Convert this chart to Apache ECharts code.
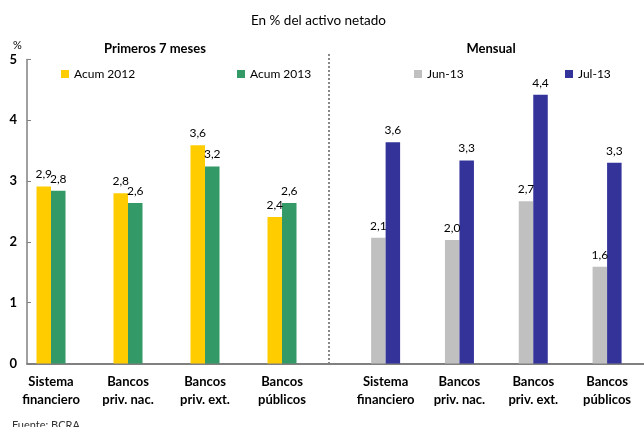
<!DOCTYPE html>
<html>
<head>
<meta charset="utf-8">
<script src="https://cdn.jsdelivr.net/npm/echarts@6/dist/echarts.min.js"></script>
<style>html,body{margin:0;padding:0;background:#fff}#c{width:644px;height:427px}</style>
</head>
<body>
<div id="c"></div>
<script>
const categories = ['Sistema\nfinanciero', 'Bancos\npriv. nac.', 'Bancos\npriv. ext.', 'Bancos\npúblicos'];
const acum2012 = [2.91, 2.80, 3.59, 2.41];
const acum2013 = [2.84, 2.64, 3.24, 2.64];
const jun13 = [2.07, 2.03, 2.67, 1.59];
const jul13 = [3.64, 3.34, 4.42, 3.30];
const yTicks = [0, 1, 2, 3, 4, 5];

const FONT = 'Lato';
const chart = echarts.init(document.getElementById('c'));
const TOP = 59.5, BOTTOM = 427 - 363.5;

const lbl = {
  show: true, position: 'top', distance: 6, color: '#000', fontFamily: FONT, fontSize: 12,
  formatter: p => p.value.toFixed(1).replace('.', ',')
};
const xLab = { color: '#000', fontFamily: FONT, fontSize: 13, fontWeight: 'bold', lineHeight: 18, margin: 9, interval: 0 };
const hiddenY = i => ({ type: 'value', gridIndex: i, min: 0, max: 5, interval: 1, show: false });
const legendCfg = (name, left) => ({
  data: [name], left: left, top: 68, padding: 0, itemWidth: 8, itemHeight: 8, icon: 'rect',
  selectedMode: false, textStyle: { fontFamily: FONT, fontSize: 12, color: '#000' }
});

chart.setOption({
  animation: false,
  title: [
    { text: 'En % del activo netado', left: 246, top: 9, textStyle: { fontFamily: FONT, fontSize: 13.5, fontWeight: 'normal', color: '#000' } },
    { text: 'Primeros 7 meses', left: 150, top: 37, textAlign: 'center', textStyle: { fontFamily: FONT, fontSize: 13, fontWeight: 'bold', color: '#000' } },
    { text: 'Mensual', left: 486, top: 37, textAlign: 'center', textStyle: { fontFamily: FONT, fontSize: 13, fontWeight: 'bold', color: '#000' } },
    { text: '%', left: 8, top: 35, textStyle: { fontFamily: FONT, fontSize: 11, fontWeight: 'normal', color: '#000' } },
    { text: 'Fuente: BCRA', left: 7, top: 415, textStyle: { fontFamily: FONT, fontSize: 11, fontWeight: 'normal', color: '#333' } }
  ],
  legend: [
    legendCfg('Acum 2012', 61),
    legendCfg('Acum 2013', 237),
    legendCfg('Jun-13', 414),
    legendCfg('Jul-13', 565)
  ],
  grid: [
    { left: 12.5, width: 308, top: TOP, bottom: BOTTOM },
    { left: 348.7, width: 307, top: TOP, bottom: BOTTOM },
    { left: 27, right: 0, top: TOP, bottom: BOTTOM }
  ],
  xAxis: [
    { type: 'category', gridIndex: 0, data: categories, axisLine: { show: false }, axisTick: { show: false }, axisLabel: xLab },
    { type: 'category', gridIndex: 1, data: categories, axisLine: { show: false }, axisTick: { show: false }, axisLabel: xLab },
    { type: 'value', gridIndex: 2, min: 0, max: 1, axisLine: { show: true, lineStyle: { color: '#808080', width: 2 } },
      axisTick: { show: false }, axisLabel: { show: false }, splitLine: { show: false } }
  ],
  yAxis: [
    hiddenY(0), hiddenY(1),
    { type: 'value', gridIndex: 2, min: yTicks[0], max: yTicks[yTicks.length - 1], interval: 1,
      axisLine: { show: true, lineStyle: { color: '#808080', width: 1.5 } },
      axisTick: { show: true, inside: true, length: 4, lineStyle: { color: '#808080' } },
      axisLabel: { color: '#000', fontFamily: FONT, fontSize: 13, fontWeight: 'bold', margin: 10 },
      splitLine: { show: false } }
  ],
  series: [
    { name: 'Acum 2012', type: 'bar', xAxisIndex: 0, yAxisIndex: 0, data: acum2012, barWidth: 14.5, barGap: '0%', itemStyle: { color: '#FFCC00' }, label: lbl },
    { name: 'Acum 2013', type: 'bar', xAxisIndex: 0, yAxisIndex: 0, data: acum2013, barWidth: 14.5, barGap: '0%', itemStyle: { color: '#339966' }, label: lbl },
    { name: 'Jun-13', type: 'bar', xAxisIndex: 1, yAxisIndex: 1, data: jun13, barWidth: 14.5, barGap: '0%', itemStyle: { color: '#C0C0C0' }, label: lbl },
    { name: 'Jul-13', type: 'bar', xAxisIndex: 1, yAxisIndex: 1, data: jul13, barWidth: 14.5, barGap: '0%', itemStyle: { color: '#333399' }, label: lbl }
  ],
  graphic: [
    { type: 'line', shape: { x1: 329, y1: 54, x2: 329, y2: 363 }, style: { stroke: '#888', lineWidth: 2, lineDash: [2, 2] }, silent: true }
  ]
});
</script>
</body>
</html>
